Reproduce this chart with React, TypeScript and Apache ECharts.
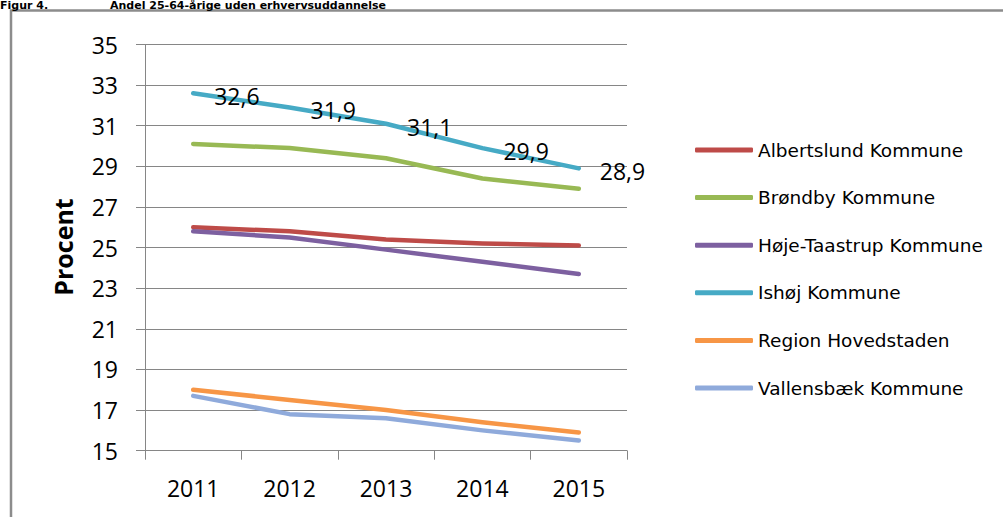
import React, { useEffect, useRef } from "react";
import * as echarts from "echarts";

const years = ["2011", "2012", "2013", "2014", "2015"];
const albertslund = [26.0, 25.8, 25.4, 25.2, 25.1];
const brondby = [30.1, 29.9, 29.4, 28.4, 27.9];
const hojeTaastrup = [25.8, 25.5, 24.9, 24.3, 23.7];
const ishoj = [32.6, 31.9, 31.1, 29.9, 28.9];
const regionHovedstaden = [18.0, 17.5, 17.0, 16.4, 15.9];
const vallensbaek = [17.7, 16.8, 16.6, 16.0, 15.5];

const seriesDefs = [
  { name: "Albertslund Kommune", data: albertslund, color: "#BE4B48", labels: false },
  { name: "Brøndby Kommune", data: brondby, color: "#98B954", labels: false },
  { name: "Høje-Taastrup Kommune", data: hojeTaastrup, color: "#7D60A0", labels: false },
  { name: "Ishøj Kommune", data: ishoj, color: "#46AAC5", labels: true },
  { name: "Region Hovedstaden", data: regionHovedstaden, color: "#F79646", labels: false },
  { name: "Vallensbæk Kommune", data: vallensbaek, color: "#8FAADB", labels: false },
];

export default function App() {
  const ref = useRef<HTMLDivElement>(null);
  useEffect(() => {
    if (!ref.current) return;
    const chart = echarts.init(ref.current, undefined, { renderer: "svg" });
    const gridColor = "#868686";
    const numFont = "'Open Sans', 'Noto Sans', sans-serif";
    chart.setOption({
      animation: false,
      backgroundColor: "#ffffff",
      grid: { left: 145, right: 376, top: 44.5, bottom: 66.3, containLabel: false },
      xAxis: {
        type: "category",
        data: years,
        boundaryGap: true,
        axisLine: { show: true, lineStyle: { color: gridColor, width: 1 } },
        axisTick: { show: true, length: 9, lineStyle: { color: gridColor } },
        axisLabel: { color: "#000", fontSize: 23, fontFamily: numFont, margin: 26 },
        splitLine: { show: false },
      },
      yAxis: {
        type: "value",
        min: 15,
        max: 35,
        interval: 2,
        axisLine: { show: true, lineStyle: { color: gridColor, width: 1 } },
        axisTick: { show: true, length: 9, lineStyle: { color: gridColor } },
        axisLabel: { color: "#000", fontSize: 23, fontFamily: numFont, margin: 27 },
        splitLine: { show: true, lineStyle: { color: gridColor, width: 1 } },
      },
      legend: {
        orient: "vertical",
        left: 695,
        top: 140,
        padding: 0,
        itemWidth: 58,
        itemHeight: 5,
        itemGap: 27.6,
        icon: "roundRect",
        textStyle: {
          color: "#000",
          fontSize: 18.5,
          lineHeight: 20,
          fontFamily: "'DejaVu Sans', sans-serif",
        },
        data: seriesDefs.map((s) => s.name),
      },
      graphic: [
        {
          type: "polyline",
          shape: { points: [[11, 517], [11, 10.5], [1003, 10.5]] },
          style: { stroke: "#8c8c8c", lineWidth: 2.5, fill: "none" },
          silent: true,
        },
        {
          type: "text",
          x: 0,
          y: 0,
          style: {
            text: "Figur 4.",
            fontSize: 11,
            lineHeight: 11,
            fontWeight: "bold",
            fontFamily: "'DejaVu Sans', sans-serif",
            fill: "#000",
            align: "left",
            verticalAlign: "top",
          },
        },
        {
          type: "text",
          x: 110,
          y: 0,
          style: {
            text: "Andel 25-64-årige uden erhvervsuddannelse",
            fontSize: 11,
            lineHeight: 11,
            fontWeight: "bold",
            fontFamily: "'DejaVu Sans', sans-serif",
            fill: "#000",
            align: "left",
            verticalAlign: "top",
          },
        },
        {
          type: "text",
          x: 63,
          y: 247,
          rotation: Math.PI / 2,
          style: {
            text: "Procent",
            fontSize: 25,
            fontWeight: "bold",
            fontFamily: numFont,
            fill: "#000",
            align: "center",
            verticalAlign: "middle",
          },
        },
      ],
      series: seriesDefs.map((s) => ({
        name: s.name,
        type: "line",
        data: s.data,
        showSymbol: s.labels,
        symbol: "circle",
        symbolSize: 0.01,
        smooth: false,
        color: s.color,
        lineStyle: { color: s.color, width: 4.5, cap: "round", join: "round" },
        itemStyle: { color: s.color },
        label: s.labels
          ? {
              show: true,
              position: "right",
              distance: 21,
              offset: [0, 3],
              color: "#000",
              fontSize: 23,
              fontFamily: numFont,
              formatter: (p: any) => String(p.value).replace(".", ","),
            }
          : { show: false },
        emphasis: { disabled: true },
      })),
    });
    return () => chart.dispose();
  }, []);
  return (
    <div
      ref={ref}
      style={{ position: "fixed", left: 0, top: 0, width: 1003, height: 517 }}
    />
  );
}
